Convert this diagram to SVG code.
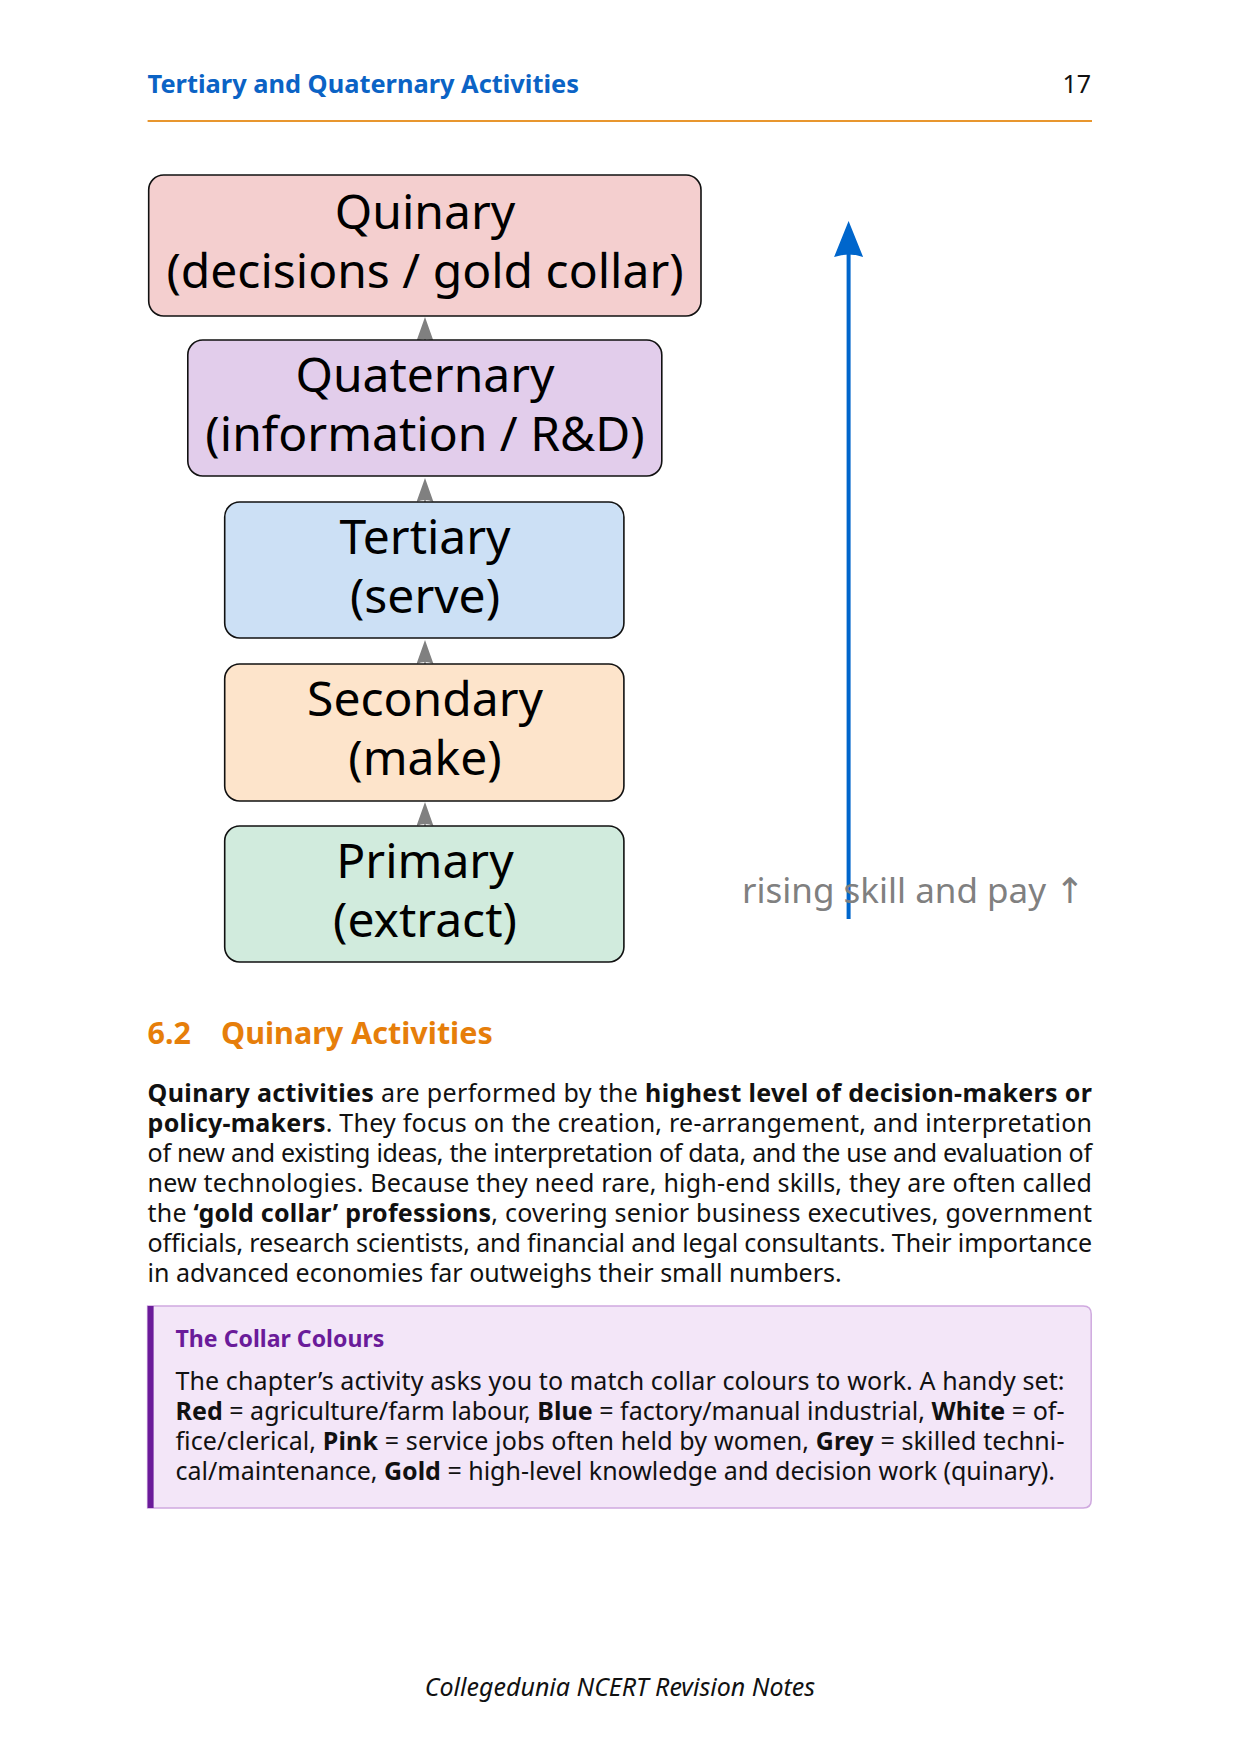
<svg xmlns="http://www.w3.org/2000/svg" width="1240" height="1754" viewBox="0 0 1240 1754">
<style>
text{font-family:"Noto Sans","Open Sans","DejaVu Sans",sans-serif;}
.box{stroke:#111;stroke-width:1.6;}
.bl{font-size:48px;fill:#000;text-anchor:middle;}
.body{font-size:25px;fill:#111;}
.b{font-weight:bold;}
.conn{stroke:#808080;stroke-width:1.5;fill:none;}
</style>
<defs>
<marker id="ga" viewBox="0 0 24 17" refX="11" refY="8.5" markerWidth="24" markerHeight="17" markerUnits="userSpaceOnUse" orient="auto">
<path d="M24,8.5 L0,0 Q4,8.5 0,17 Z" fill="#808080"/>
</marker>
<marker id="ba" viewBox="0 0 36 29" refX="16" refY="14.5" markerWidth="36" markerHeight="29" markerUnits="userSpaceOnUse" orient="auto">
<path d="M36,14.5 L0,0 Q5,14.5 0,29 Z" fill="#0066CC"/>
</marker>
</defs>
<rect width="1240" height="1754" fill="#fff"/>
<g id="header">
<text x="147.6" y="93" font-size="25.4" font-weight="bold" fill="#0B63C5">Tertiary and Quaternary Activities</text>
<text x="1091" y="93" font-size="25" fill="#111" text-anchor="end">17</text>
<line x1="147.6" y1="121" x2="1092" y2="121" stroke="#E8962E" stroke-width="2"/>
</g>
<g id="connectors">
<line class="conn" x1="425" y1="340" x2="425" y2="330" marker-end="url(#ga)"/>
<line class="conn" x1="425" y1="502" x2="425" y2="491" marker-end="url(#ga)"/>
<line class="conn" x1="425" y1="664" x2="425" y2="653" marker-end="url(#ga)"/>
<line class="conn" x1="425" y1="826" x2="425" y2="815" marker-end="url(#ga)"/>
<line x1="848.6" y1="919" x2="848.6" y2="241" stroke="#0066CC" stroke-width="4" marker-end="url(#ba)"/>
</g>
<g id="quinary">
<rect class="box" x="148.7" y="175" width="552.3" height="141" rx="15" fill="#F4CFCF"/>
<text class="bl" x="425" y="229">Quinary</text>
<text class="bl" x="425" y="288">(decisions / gold collar)</text>
</g>
<g id="quaternary">
<rect class="box" x="187.8" y="340" width="474" height="136" rx="15" fill="#E2CDEB"/>
<text class="bl" x="425" y="391.5">Quaternary</text>
<text class="bl" x="425" y="450.5">(information / R&amp;D)</text>
</g>
<g id="tertiary">
<rect class="box" x="224.7" y="502" width="399.2" height="136" rx="15" fill="#CCE0F5"/>
<text class="bl" x="425" y="553.5">Tertiary</text>
<text class="bl" x="425" y="612.5">(serve)</text>
</g>
<g id="secondary">
<rect class="box" x="224.7" y="664" width="399.2" height="137" rx="15" fill="#FDE4CB"/>
<text class="bl" x="425" y="716">Secondary</text>
<text class="bl" x="425" y="775">(make)</text>
</g>
<g id="primary">
<rect class="box" x="224.7" y="826" width="399.2" height="136" rx="15" fill="#D1EBDD"/>
<text class="bl" x="425" y="877.5">Primary</text>
<text class="bl" x="425" y="936.5">(extract)</text>
</g>
<g id="axis-label">
<text x="742" y="903" font-size="35" fill="#808080">rising skill and pay ↑</text>
</g>
<g id="section">
<text x="147.6" y="1044" font-size="30.5" font-weight="bold" fill="#E67E0A">6.2</text>
<text x="221" y="1044" font-size="30.5" font-weight="bold" fill="#E67E0A">Quinary Activities</text>
</g>
<g id="paragraph">
<text class="body" x="147.6" y="1102" textLength="944.4" lengthAdjust="spacing"><tspan class="b">Quinary activities</tspan> are performed by the <tspan class="b">highest level of decision-makers or</tspan></text>
<text class="body" x="147.6" y="1132" textLength="944.4" lengthAdjust="spacing"><tspan class="b">policy-makers</tspan>.  They focus on the creation, re-arrangement, and interpretation</text>
<text class="body" x="147.6" y="1162" textLength="944.4" lengthAdjust="spacing">of new and existing ideas, the interpretation of data, and the use and evaluation of</text>
<text class="body" x="147.6" y="1192" textLength="944.4" lengthAdjust="spacing">new technologies.  Because they need rare, high-end skills, they are often called</text>
<text class="body" x="147.6" y="1222" textLength="944.4" lengthAdjust="spacing">the <tspan class="b">‘gold collar’ professions</tspan>, covering senior business executives, government</text>
<text class="body" x="147.6" y="1252" textLength="944.4" lengthAdjust="spacing">officials, research scientists, and financial and legal consultants. Their importance</text>
<text class="body" x="147.6" y="1282">in advanced economies far outweighs their small numbers.</text>
</g>
<g id="callout">
<path d="M147.6,1306 H1083.2 Q1091.2,1306 1091.2,1314 V1500 Q1091.2,1508 1083.2,1508 H147.6 Z" fill="#F3E6F8" stroke="#CFA9DF" stroke-width="1.5"/>
<rect x="147.6" y="1306" width="6" height="202" fill="#6A1B9A"/>
<text x="175.5" y="1347" font-size="23.1" font-weight="bold" fill="#6A1B9A">The Collar Colours</text>
<text class="body" x="175.5" y="1390" textLength="889" lengthAdjust="spacing">The chapter’s activity asks you to match collar colours to work.  A handy set:</text>
<text class="body" x="175.5" y="1420" textLength="889" lengthAdjust="spacing"><tspan class="b">Red</tspan> = agriculture/farm labour, <tspan class="b">Blue</tspan> = factory/manual industrial, <tspan class="b">White</tspan> = of-</text>
<text class="body" x="175.5" y="1450" textLength="889" lengthAdjust="spacing">fice/clerical, <tspan class="b">Pink</tspan> = service jobs often held by women, <tspan class="b">Grey</tspan> = skilled techni-</text>
<text class="body" x="175.5" y="1480">cal/maintenance, <tspan class="b">Gold</tspan> = high-level knowledge and decision work (quinary).</text>
</g>
<g id="footer">
<text x="620" y="1696" font-size="25" font-style="italic" fill="#111" text-anchor="middle">Collegedunia NCERT Revision Notes</text>
</g>
</svg>
